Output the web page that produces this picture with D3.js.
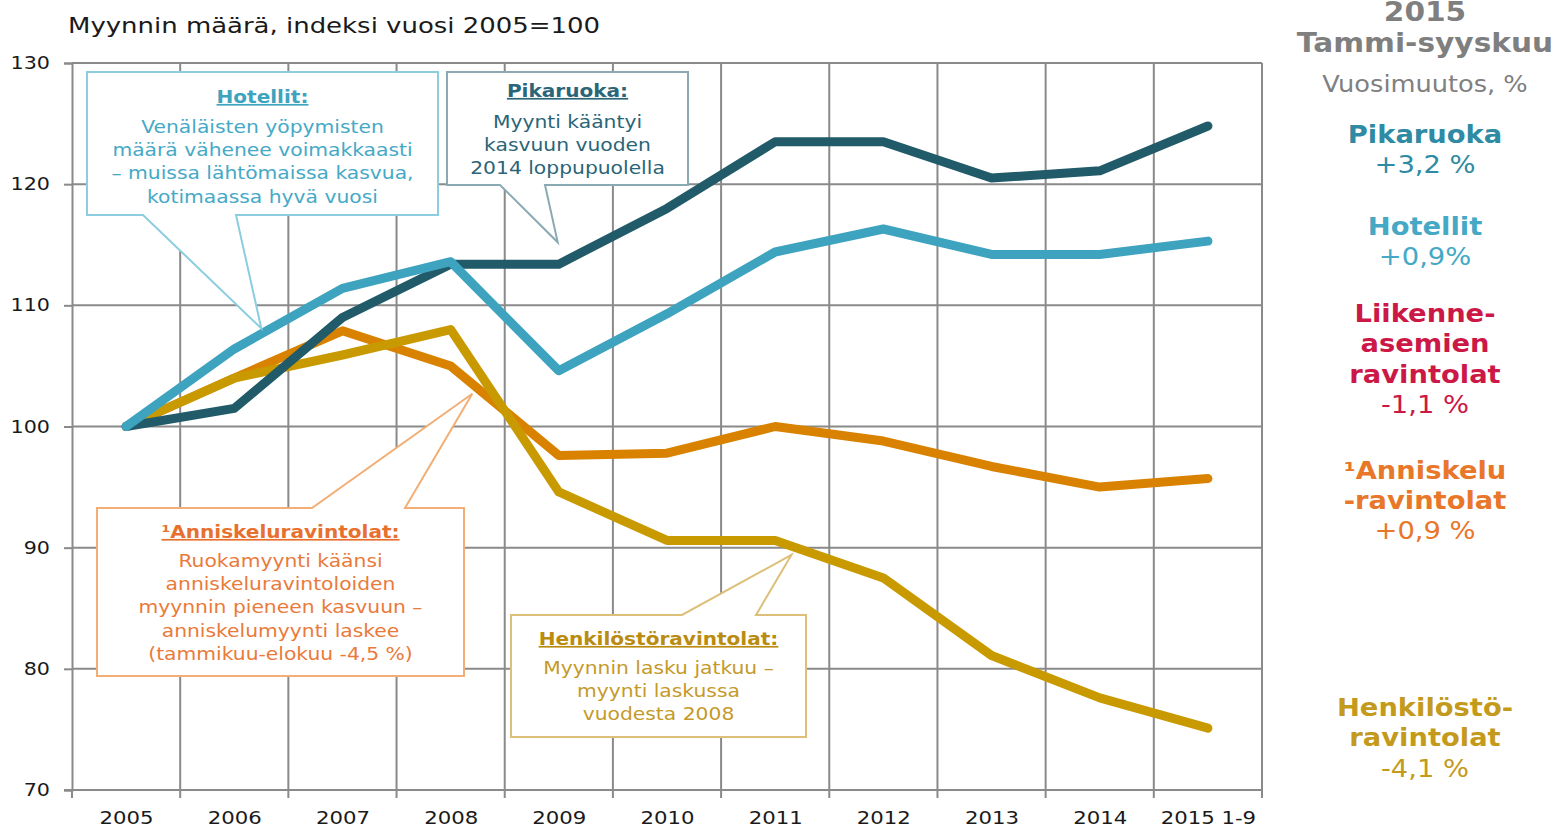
<!DOCTYPE html>
<html>
<head>
<meta charset="utf-8">
<script src="https://cdn.jsdelivr.net/npm/d3@7"></script>
<style>
  body { margin: 0; background: #fff; }
  svg { display: block; font-family: "DejaVu Sans", Verdana, sans-serif; }
</style>
</head>
<body>
<div id="chart"></div>
<script>
// data
var years = ["2005", "2006", "2007", "2008", "2009", "2010", "2011", "2012", "2013", "2014", "2015 1-9"];
var pikaruoka = [100, 101.5, 109, 113.4, 113.4, 118, 123.5, 123.5, 120.5, 121.1, 124.8];
var hotellit = [100, 106.4, 111.4, 113.6, 104.6, 109.3, 114.4, 116.3, 114.2, 114.2, 115.3];
var anniskelu = [100, 104, 107.9, 105, 97.6, 97.8, 100, 98.8, 96.7, 95, 95.7];
var henkilosto = [100, 104, 105.9, 108, 94.6, 90.6, 90.6, 87.5, 81.1, 77.6, 75.1];
var yTicks = [70, 80, 90, 100, 110, 120, 130];

var W = 1564, H = 831;
var mLeft = 72, mRight = 1262, mTop = 63, mBottom = 790;
var stretch = 1.18; // the source text is drawn wide

var svg = d3.select('#chart').append('svg')
    .attr('width', W)
    .attr('height', H);

var x = d3.scalePoint()
    .domain(years)
    .range([mLeft, mRight])
    .padding(0.5);
var step = x.step();

var y = d3.scaleLinear()
    .domain([70, 130])
    .range([mBottom, mTop]);

// position in category units (for callout tips)
function xAt(i) { return x(years[0]) + i * step; }

function wideText(sel, px, py, sx) {
    return sel.attr('transform', 'translate(' + px + ',' + py + ') scale(' + (sx || stretch) + ',1)');
}

var gridColor = '#8a8a8a';

// horizontal grid
svg.append('g')
    .selectAll('line').data(yTicks.slice(1))
    .enter().append('line')
    .attr('x1', mLeft).attr('x2', mRight)
    .attr('y1', function (d) { return y(d); })
    .attr('y2', function (d) { return y(d); })
    .attr('stroke', gridColor).attr('stroke-width', 2);

// vertical grid at the category boundaries
svg.append('g')
    .selectAll('line').data(years)
    .enter().append('line')
    .attr('x1', function (d) { return x(d) + step / 2; })
    .attr('x2', function (d) { return x(d) + step / 2; })
    .attr('y1', mTop).attr('y2', mBottom + 8)
    .attr('stroke', gridColor).attr('stroke-width', 2);

// y axis
var yAxis = svg.append('g')
    .attr('transform', 'translate(' + mLeft + ',0)')
    .call(d3.axisLeft(y).tickValues(yTicks).tickSize(8).tickPadding(14));
yAxis.select('.domain').attr('stroke', gridColor).attr('stroke-width', 2);
yAxis.selectAll('.tick line').attr('stroke', gridColor).attr('stroke-width', 2);
yAxis.selectAll('text')
    .attr('x', -22 / stretch)
    .attr('transform', 'scale(' + stretch + ',1)')
    .attr('font-size', 17.5).attr('fill', '#1a1a1a')
    .attr('font-family', '"DejaVu Sans", Verdana, sans-serif');

// x axis
var xAxis = svg.append('g')
    .attr('transform', 'translate(0,' + mBottom + ')')
    .call(d3.axisBottom(x).tickSize(0).tickPadding(21));
xAxis.select('.domain').attr('d', 'M' + (mLeft - 8) + ',0H' + mRight)
    .attr('stroke', gridColor).attr('stroke-width', 2);
xAxis.selectAll('text')
    .attr('transform', 'scale(' + stretch + ',1)')
    .attr('font-size', 18).attr('fill', '#1a1a1a')
    .attr('font-family', '"DejaVu Sans", Verdana, sans-serif');
svg.append('line')
    .attr('x1', mLeft).attr('x2', mLeft)
    .attr('y1', mBottom).attr('y2', mBottom + 8)
    .attr('stroke', gridColor).attr('stroke-width', 2);

// title
wideText(svg.append('text'), 68, 33)
    .attr('font-size', 22).attr('fill', '#1a1a1a')
    .text('Myynnin määrä, indeksi vuosi 2005=100');

// lines
var line = d3.line()
    .x(function (d, i) { return x(years[i]); })
    .y(function (d) { return y(d); });

var series = [
    { values: anniskelu, color: '#d98200' },
    { values: henkilosto, color: '#c99a00' },
    { values: pikaruoka, color: '#215a69' },
    { values: hotellit, color: '#3ea3bf' }
];

svg.append('g')
    .selectAll('path').data(series)
    .enter().append('path')
    .attr('d', function (d) { return line(d.values); })
    .attr('fill', 'none')
    .attr('stroke', function (d) { return d.color; })
    .attr('stroke-width', 9)
    .attr('stroke-linejoin', 'round')
    .attr('stroke-linecap', 'round');

// callouts
var callouts = [
    { x0: 87, y0: 72, x1: 438, y1: 215, side: 'bottom', b0: 143, b1: 236,
      tip: [xAt(1.25), y(108.1)], stroke: '#8ccde0', title: 'Hotellit:', titleColor: '#3ea3bf',
      color: '#45a9c6', lines: ['Venäläisten yöpymisten', 'määrä vähenee voimakkaasti',
        '– muissa lähtömaissa kasvua,', 'kotimaassa hyvä vuosi'], ty: 103, ly: 133 },
    { x0: 447, y0: 72, x1: 688, y1: 185, side: 'bottom', b0: 500, b1: 545,
      tip: [xAt(3.99), y(115.2)], stroke: '#8aaab3', title: 'Pikaruoka:', titleColor: '#2a6578',
      color: '#2a6578', lines: ['Myynti kääntyi', 'kasvuun vuoden', '2014 loppupuolella'], ty: 97, ly: 128 },
    { x0: 97, y0: 508, x1: 464, y1: 676, side: 'top', b0: 312, b1: 405,
      tip: [xAt(3.2), y(102.7)], stroke: '#f2ae74', title: '¹Anniskeluravintolat:', titleColor: '#e8702e',
      color: '#ea7a3a', lines: ['Ruokamyynti käänsi', 'anniskeluravintoloiden',
        'myynnin pieneen kasvuun –', 'anniskelumyynti laskee', '(tammikuu-elokuu  -4,5 %)'], ty: 538, ly: 567 },
    { x0: 511, y0: 615, x1: 806, y1: 737, side: 'top', b0: 682, b1: 756,
      tip: [xAt(6.15), y(89.4)], stroke: '#dcbf78', title: 'Henkilöstöravintolat:', titleColor: '#b98c10',
      color: '#c49a2a', lines: ['Myynnin lasku jatkuu –', 'myynti laskussa', 'vuodesta  2008'], ty: 645, ly: 674 }
];

function calloutPath(c) {
    var p = d3.path();
    if (c.side === 'bottom') {
        p.moveTo(c.x0, c.y0);
        p.lineTo(c.x1, c.y0);
        p.lineTo(c.x1, c.y1);
        p.lineTo(c.b1, c.y1);
        p.lineTo(c.tip[0], c.tip[1]);
        p.lineTo(c.b0, c.y1);
        p.lineTo(c.x0, c.y1);
    } else {
        p.moveTo(c.x0, c.y0);
        p.lineTo(c.b0, c.y0);
        p.lineTo(c.tip[0], c.tip[1]);
        p.lineTo(c.b1, c.y0);
        p.lineTo(c.x1, c.y0);
        p.lineTo(c.x1, c.y1);
        p.lineTo(c.x0, c.y1);
    }
    p.closePath();
    return p.toString();
}

var cg = svg.append('g').selectAll('g').data(callouts)
    .enter().append('g');

cg.append('path')
    .attr('d', calloutPath)
    .attr('fill', '#fff')
    .attr('stroke', function (d) { return d.stroke; })
    .attr('stroke-width', 2)
    .attr('stroke-linejoin', 'miter');

cg.each(function (d) {
    var g = d3.select(this);
    var cx = (d.x0 + d.x1) / 2;
    wideText(g.append('text'), cx, d.ty)
        .attr('text-anchor', 'middle')
        .attr('font-size', 17).attr('font-weight', 'bold')
        .attr('text-decoration', 'underline')
        .attr('fill', d.titleColor)
        .text(d.title);
    g.selectAll('text.body').data(d.lines)
        .enter().append('text')
        .attr('class', 'body')
        .each(function (t, i) { wideText(d3.select(this), cx, d.ly + i * 23.2); })
        .attr('text-anchor', 'middle')
        .attr('font-size', 17.2)
        .attr('fill', d.color)
        .text(function (t) { return t; });
});

// right panel
var panel = [
    { text: '2015', y: 21, size: 26, weight: 'bold', color: '#7f7f7f' },
    { text: 'Tammi-syyskuu', y: 52, size: 26, weight: 'bold', color: '#7f7f7f' },
    { text: 'Vuosimuutos, %', y: 92, size: 22.5, weight: 'normal', color: '#808080' },
    { text: 'Pikaruoka', y: 143, size: 24, weight: 'bold', color: '#2f8aa3' },
    { text: '+3,2 %', y: 173, size: 24, weight: 'normal', color: '#2f8aa3' },
    { text: 'Hotellit', y: 235, size: 24, weight: 'bold', color: '#45a9c6' },
    { text: '+0,9%', y: 265, size: 24, weight: 'normal', color: '#45a9c6' },
    { text: 'Liikenne-', y: 322, size: 24, weight: 'bold', color: '#cc1847' },
    { text: 'asemien', y: 352, size: 24, weight: 'bold', color: '#cc1847' },
    { text: 'ravintolat', y: 383, size: 24, weight: 'bold', color: '#cc1847' },
    { text: '-1,1 %', y: 413, size: 24, weight: 'normal', color: '#cc1847' },
    { text: '¹Anniskelu', y: 479, size: 24, weight: 'bold', color: '#e8772a' },
    { text: '-ravintolat', y: 509, size: 24, weight: 'bold', color: '#e8772a' },
    { text: '+0,9 %', y: 539, size: 24, weight: 'normal', color: '#e8772a' },
    { text: 'Henkilöstö-', y: 716, size: 24, weight: 'bold', color: '#c49a1c' },
    { text: 'ravintolat', y: 746, size: 24, weight: 'bold', color: '#c49a1c' },
    { text: '-4,1 %', y: 777, size: 24, weight: 'normal', color: '#c49a1c' }
];

svg.append('g')
    .selectAll('text').data(panel)
    .enter().append('text')
    .each(function (d) { wideText(d3.select(this), 1425, d.y, 1.14); })
    .attr('text-anchor', 'middle')
    .attr('font-size', function (d) { return d.size; })
    .attr('font-weight', function (d) { return d.weight; })
    .attr('fill', function (d) { return d.color; })
    .text(function (d) { return d.text; });
</script>
</body>
</html>
